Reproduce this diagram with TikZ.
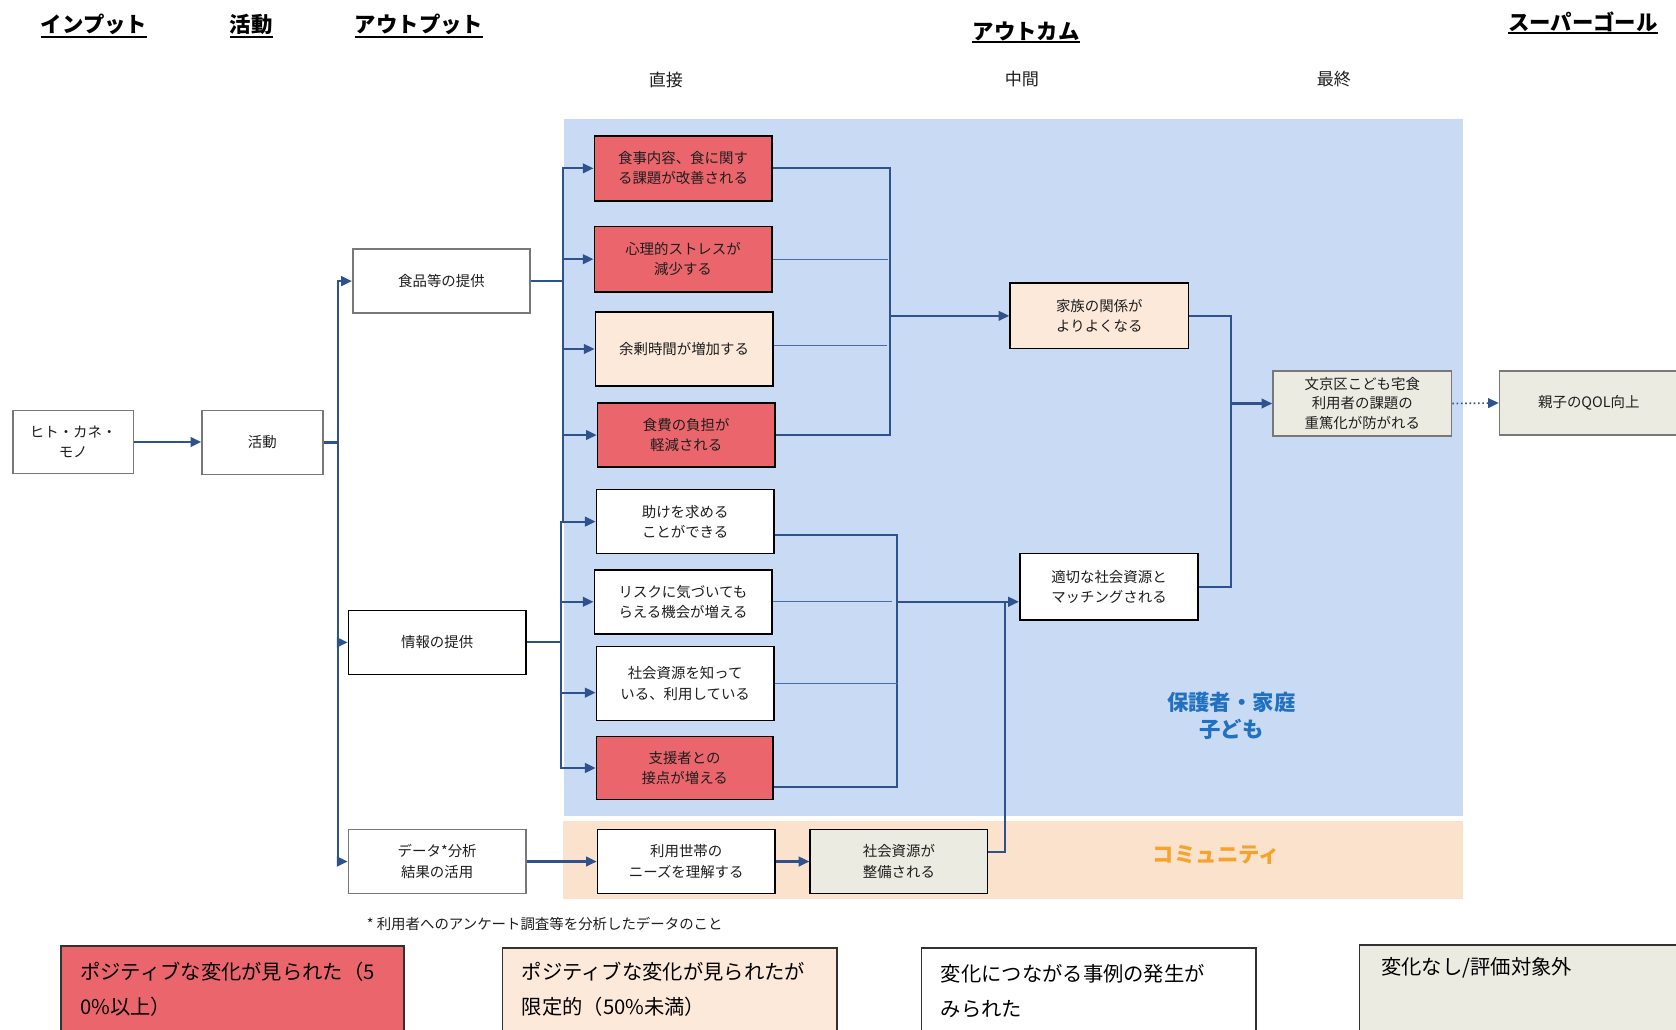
\documentclass[tikz,border=0pt]{standalone}
\usepackage{fontspec}
\setmainfont{Noto Sans CJK JP}
\usetikzlibrary{arrows.meta,calc}
\definecolor{redf}{RGB}{234,102,108}
\definecolor{peach}{RGB}{253,233,217}
\definecolor{beige}{RGB}{236,235,225}
\definecolor{bluebg}{RGB}{201,218,245}
\definecolor{orangebg}{RGB}{250,226,204}
\definecolor{conncol}{RGB}{47,82,143}
\definecolor{stubcol}{RGB}{70,108,170}
\definecolor{gborder}{RGB}{120,120,120}
\definecolor{bluetxt}{RGB}{32,113,192}
\definecolor{orangetxt}{RGB}{246,163,46}
\definecolor{txt}{RGB}{30,30,30}
\definecolor{legborder}{RGB}{50,50,50}
\newcommand{\boxfont}{\fontsize{13.5}{19}\selectfont}
\newcommand{\hdrfont}{\fontsize{20}{24}\selectfont\bfseries}
\newcommand{\subhdrfont}{\fontsize{16}{20}\selectfont}
\newcommand{\labfont}{\fontsize{20}{25}\selectfont\bfseries}
\newcommand{\legfont}{\fontsize{19}{33}\selectfont}
\newcommand{\notefont}{\fontsize{13.5}{18}\selectfont}
\begin{document}
\begin{tikzpicture}[x=1pt,y=-1pt,
  bx/.style={draw, line width=1.5pt, inner sep=0pt, align=center, font=\boxfont, text=txt},
  graybx/.style={bx, draw=gborder},
  blkbx/.style={bx, draw=black},
  hdr/.style={inner sep=0pt, font=\hdrfont, text=black},
  uline/.style={line width=2pt, black},
  subhdr/.style={inner sep=0pt, font=\subhdrfont, text=txt},
  conn/.style={draw=conncol, line width=2pt},
  stub/.style={draw=stubcol, line width=1.2pt},
  arr/.style={conn, -{Triangle[length=10pt,width=9pt]}},
  legbox/.style={draw=legborder, line width=1.5pt, inner sep=0pt},
  legtxt/.style={inner sep=0pt, anchor=north west, align=left, font=\legfont, text=black}
]
\useasboundingbox (0,0) rectangle (1568,963);
\fill[white] (0,0) rectangle (1568,963);
\fill[bluebg] (528,111) rectangle (1369,763);
\fill[orangebg] (527,768) rectangle (1369,841);

% headers
\node[hdr] (h1) at (88,23) {インプット};
\node[hdr] (h2) at (235,23) {活動};
\node[hdr] (h3) at (392,23) {アウトプット};
\node[hdr] (h4) at (960,29) {アウトカム};
\node[hdr] (h5) at (1481,20) {スーパーゴール};
\foreach \h in {h1,h2,h3,h4,h5}
  \draw[uline] ([yshift=-1.5pt]\h.south west) -- ([yshift=-1.5pt]\h.south east);
\node[subhdr] (s1) at (623,75) {直接};
\node[subhdr] (s2) at (956,74) {中間};
\node[subhdr] (s3) at (1248,74) {最終};

% region labels
\node[inner sep=0pt, align=center, font=\labfont, text=bluetxt] (lab1) at (1152,670) {保護者・家庭\\子ども};
\node[inner sep=0pt, font=\labfont, text=orangetxt] (lab2) at (1138,800) {コミュニティ};

% input / activity / outputs
\node[graybx, fill=white, minimum width=113pt, minimum height=59pt] (in) at (68.5,413.5) {ヒト・カネ・\\モノ};
\node[graybx, fill=white, minimum width=113pt, minimum height=60pt] (act) at (245.5,414) {活動};
\node[graybx, fill=white, minimum width=166pt, minimum height=60pt] (food) at (413,263) {食品等の提供};
\node[blkbx, fill=white, minimum width=166pt, minimum height=60pt] (info) at (409,601) {情報の提供};
\node[graybx, fill=white, minimum width=166pt, minimum height=60pt] (data) at (409,806) {データ*分析\\結果の活用};

% direct outcomes
\node[blkbx, fill=redf, minimum width=166pt, minimum height=61pt] (d1) at (639,157.5) {食事内容、食に関す\\る課題が改善される};
\node[blkbx, fill=redf, minimum width=166pt, minimum height=61pt] (d2) at (639,242.5) {心理的ストレスが\\減少する};
\node[blkbx, fill=peach, minimum width=166pt, minimum height=69pt] (d3) at (640,326.5) {余剰時間が増加する};
\node[blkbx, fill=redf, minimum width=166pt, minimum height=60pt] (d4) at (642,407) {食費の負担が\\軽減される};
\node[blkbx, fill=white, minimum width=166pt, minimum height=60pt] (d5) at (641,488) {助けを求める\\ことができる};
\node[blkbx, fill=white, minimum width=166pt, minimum height=60pt] (d6) at (639,563) {リスクに気づいても\\らえる機会が増える};
\node[blkbx, fill=white, minimum width=166pt, minimum height=69pt] (d7) at (641,639.5) {社会資源を知って\\いる、利用している};
\node[blkbx, fill=redf, minimum width=165pt, minimum height=59pt] (d8) at (640.5,718.5) {支援者との\\接点が増える};
\node[blkbx, fill=white, minimum width=166pt, minimum height=60pt] (c1) at (642,806) {利用世帯の\\ニーズを理解する};
\node[blkbx, fill=beige, minimum width=166pt, minimum height=60pt] (c2) at (841,806) {社会資源が\\整備される};

% intermediate / final / goal
\node[blkbx, fill=peach, minimum width=167pt, minimum height=61pt] (m1) at (1028.5,295.5) {家族の関係が\\よりよくなる};
\node[blkbx, fill=white, minimum width=167pt, minimum height=62pt] (m2) at (1037.5,549) {適切な社会資源と\\マッチングされる};
\node[graybx, fill=beige, minimum width=167pt, minimum height=61pt, font=\fontsize{13.5}{18.3}\selectfont] (f1) at (1274.5,377.5) {文京区こども宅食\\利用者の課題の\\重篤化が防がれる};
\node[graybx, fill=beige, minimum width=167pt, minimum height=60pt] (g) at (1486.5,377) {親子のQOL向上};

% connectors
\draw[arr] (in.east) -- (act.west |- in.east);
\coordinate (j1) at (316,414);
\draw[conn] (act.east) -- (j1);
\draw[arr] (j1) |- (food.west);
\draw[arr] (j1) |- (info.west);
\draw[arr] (j1) |- (data.west);

\coordinate (j2) at (527,263);
\coordinate (j2b) at (527,488);
\draw[conn] (food.east) -- (j2);
\draw[conn] (j2) -- (j2b);
\draw[arr] (j2) |- (d1.west);
\draw[arr] (j2) |- (d2.west);
\draw[arr] (j2) |- (d3.west);
\draw[arr] (j2) |- (d4.west);

\coordinate (j3) at (525,601);
\draw[conn] (info.east) -- (j3);
\draw[arr] (j3) |- (d5.west);
\draw[arr] (j3) |- (d6.west);
\draw[arr] (j3) |- ([yshift=-8.5pt]d7.west);
\draw[arr] (j3) |- (d8.west);

\coordinate (j4) at (833,295.5);
\draw[conn] (d1.east) -| (j4);
\draw[conn] (d4.east) -| (j4);
\draw[arr] (j4) -- (m1.west);
\draw[stub] (d2.east) -- ++(108,0);
\draw[stub] ([yshift=3.5pt]d3.east) -- ++(106,0);

\coordinate (j5) at (839,563);
\draw[conn] ([yshift=-12.5pt]d5.east) -| (j5);
\draw[conn] ([yshift=-17.5pt]d8.east) -| (j5);
\draw[stub] (d6.east) -- ++(112,0);
\draw[stub] (d7.east) -- ++(115,0);
\draw[arr] (j5) -- ([yshift=-14pt]m2.west);
\coordinate (j6) at (940,563);
\draw[conn] ([yshift=9pt]c2.east) -| (j6);

\draw[arr] (data) -- (c1);
\draw[arr] (c1) -- (c2);

\coordinate (j7) at (1152,377.5);
\draw[conn] (m1.east) -| (j7);
\draw[conn] (m2.east) -| (j7);
\draw[arr] (j7) -- (f1.west);
\draw[arr, line width=1.5pt, dash pattern=on 1.5pt off 2.5pt] (f1.east) -- (g.west);

% footnote
\node[inner sep=0pt, anchor=west, font=\notefont, text=txt] (note) at (343,864) {* 利用者へのアンケート調査等を分析したデータのこと};

% legend
\node[legbox, fill=redf, minimum width=321pt, minimum height=90pt] (leg1) at (217.5,930) {};
\node[legtxt] (leg1t) at (75,900) {ポジティブな変化が見られた（5\\0\%以上）};
\node[legbox, fill=peach, minimum width=313pt, minimum height=90pt] (leg2) at (626.5,932) {};
\node[legtxt] (leg2t) at (488,900) {ポジティブな変化が見られたが\\限定的（50\%未満）};
\node[legbox, fill=white, minimum width=313pt, minimum height=90pt] (leg3) at (1018.5,932) {};
\node[legtxt] (leg3t) at (880,902) {変化につながる事例の発生が\\みられた};
\node[legbox, fill=beige, minimum width=308pt, minimum height=93pt] (leg4) at (1426,930.5) {};
\node[legtxt] (leg4t) at (1292,895) {変化なし/評価対象外};
\end{tikzpicture}
\end{document}
